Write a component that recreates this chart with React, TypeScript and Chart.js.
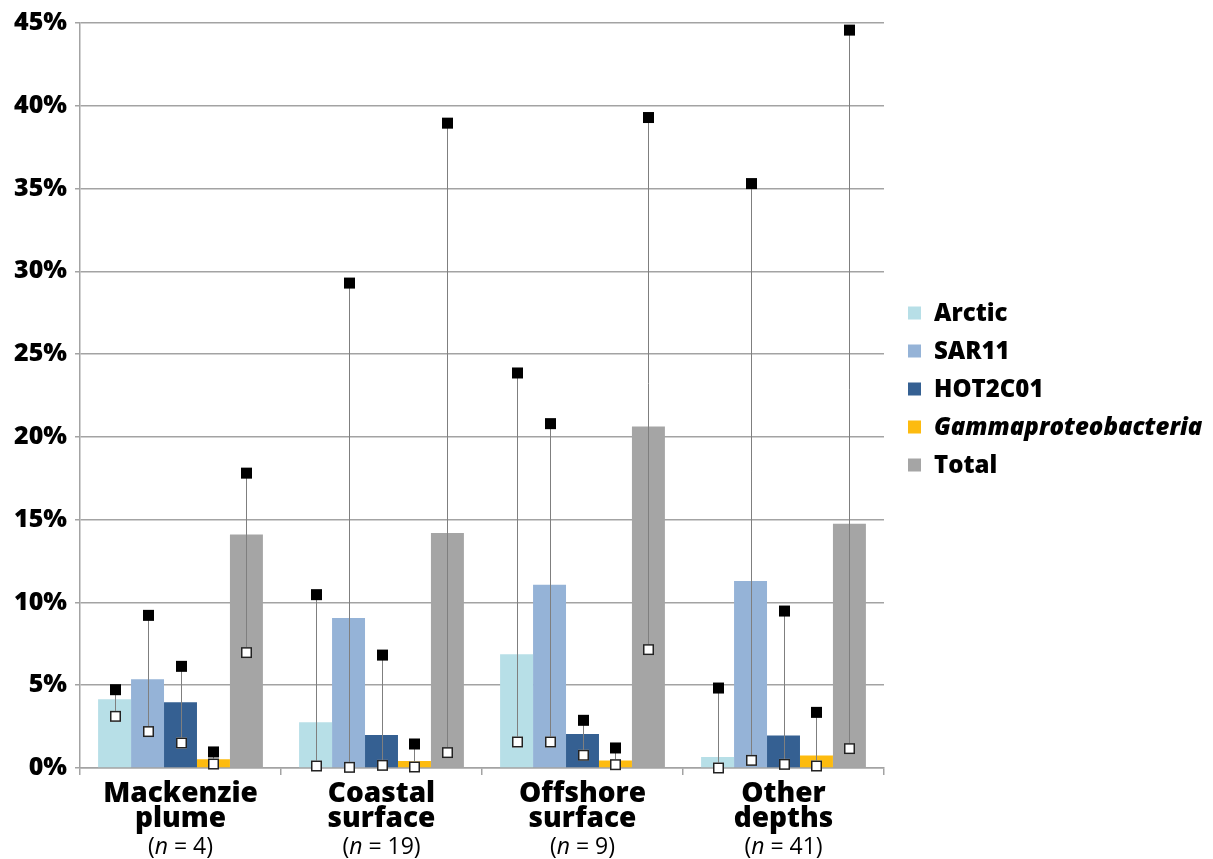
import React, { useEffect, useRef } from "react";
import { Chart, registerables } from "chart.js";

Chart.register(...registerables);

// ---- Data ----
const categories = ["Mackenzie plume", "Coastal surface", "Offshore surface", "Other depths"];
const categoryLine1 = ["Mackenzie", "Coastal", "Offshore", "Other"];
const categoryLine2 = ["plume", "surface", "surface", "depths"];
const sampleSizes = [4, 19, 9, 41];

const seriesNames = ["Arctic", "SAR11", "HOT2C01", "Gammaproteobacteria", "Total"];
const seriesColors = ["#b7dfe7", "#95b3d7", "#356092", "#fdbb0f", "#a5a5a5"];
const italicSeries = ["Gammaproteobacteria"];

const arcticMean = [4.15, 2.76, 6.87, 0.67];
const arcticMax = [4.73, 10.47, 23.86, 4.83];
const arcticMin = [3.12, 0.12, 1.57, 0.0];

const sar11Mean = [5.36, 9.06, 11.07, 11.29];
const sar11Max = [9.22, 29.29, 20.8, 35.3];
const sar11Min = [2.2, 0.04, 1.57, 0.46];

const hot2c01Mean = [3.97, 1.99, 2.05, 1.97];
const hot2c01Max = [6.14, 6.82, 2.88, 9.48];
const hot2c01Min = [1.51, 0.16, 0.77, 0.22];

const gammaMean = [0.53, 0.42, 0.45, 0.75];
const gammaMax = [0.97, 1.45, 1.21, 3.36];
const gammaMin = [0.24, 0.06, 0.2, 0.12];

const totalMean = [14.11, 14.19, 20.63, 14.76];
const totalMax = [17.81, 38.95, 39.29, 44.57];
const totalMin = [6.97, 0.93, 7.15, 1.17];

const yMin = 0;
const yMax = 45;
const yStep = 5;

const means = [arcticMean, sar11Mean, hot2c01Mean, gammaMean, totalMean];
const maxes = [arcticMax, sar11Max, hot2c01Max, gammaMax, totalMax];
const mins = [arcticMin, sar11Min, hot2c01Min, gammaMin, totalMin];

const FONT = "'Open Sans', 'Noto Sans', sans-serif";
const GRID = "#a3a3a3";

const whiskerPlugin = {
  id: "whiskers",
  afterDatasetsDraw(chart: any) {
    const ctx = chart.ctx;
    const y = chart.scales.y;
    chart.data.datasets.forEach((ds: any, i: number) => {
      const meta = chart.getDatasetMeta(i);
      meta.data.forEach((bar: any, j: number) => {
        const x = Math.round(bar.x) + 0.5;
        const pMax = y.getPixelForValue(ds.errMax[j]);
        const pMin = y.getPixelForValue(ds.errMin[j]);
        ctx.save();
        ctx.strokeStyle = "#7f7f7f";
        ctx.lineWidth = 1;
        ctx.beginPath();
        ctx.moveTo(x, pMin);
        ctx.lineTo(x, pMax);
        ctx.stroke();
        const s = 11;
        ctx.fillStyle = "#000";
        ctx.fillRect(x - s / 2, pMax - s / 2, s, s);
        ctx.fillStyle = "#fff";
        ctx.fillRect(x - s / 2, pMin - s / 2, s, s);
        ctx.strokeStyle = "#222";
        ctx.lineWidth = 1.5;
        ctx.strokeRect(x - s / 2 + 0.75, pMin - s / 2 + 0.75, s - 1.5, s - 1.5);
        ctx.restore();
      });
    });
  },
};

const labelsPlugin = {
  id: "catLabels",
  afterDraw(chart: any) {
    const ctx = chart.ctx;
    const xs = chart.scales.x;
    const bottom = chart.chartArea.bottom;
    ctx.save();
    ctx.fillStyle = "#000";
    ctx.textBaseline = "alphabetic";
    categories.forEach((_c, j) => {
      const cx = xs.getPixelForValue(j);
      ctx.textAlign = "center";
      ctx.font = `800 28px ${FONT}`;
      ctx.fillText(categoryLine1[j], cx, bottom + 34);
      ctx.fillText(categoryLine2[j], cx, bottom + 59);
      // (n = N)
      ctx.textAlign = "left";
      const normal = `23px ${FONT}`;
      const ital = `italic 23px ${FONT}`;
      const p1 = "(";
      const p2 = "n";
      const p3 = " = " + sampleSizes[j] + ")";
      ctx.font = normal;
      const w1 = ctx.measureText(p1).width;
      const w3 = ctx.measureText(p3).width;
      ctx.font = ital;
      const w2 = ctx.measureText(p2).width;
      let x0 = cx - (w1 + w2 + w3) / 2;
      const by = bottom + 86;
      ctx.font = normal;
      ctx.fillText(p1, x0, by);
      x0 += w1;
      ctx.font = ital;
      ctx.fillText(p2, x0, by);
      x0 += w2;
      ctx.font = normal;
      ctx.fillText(p3, x0, by);
    });
    ctx.restore();
  },
};

const legendPlugin = {
  id: "customLegend",
  afterDraw(chart: any) {
    const ctx = chart.ctx;
    const x0 = chart.chartArea.right + 24;
    const yStart = 313;
    const gap = 38;
    ctx.save();
    ctx.textBaseline = "middle";
    ctx.textAlign = "left";
    chart.data.datasets.forEach((ds: any, i: number) => {
      const yc = yStart + i * gap;
      ctx.fillStyle = ds.backgroundColor;
      ctx.fillRect(x0, yc - 6.5, 13, 13);
      ctx.fillStyle = "#000";
      const it = italicSeries.includes(ds.label);
      ctx.font = `${it ? "italic " : ""}800 24px ${FONT}`;
      ctx.fillText(ds.label, x0 + 26, yc + 1);
    });
    ctx.restore();
  },
};

export default function App() {
  const ref = useRef<HTMLCanvasElement | null>(null);
  useEffect(() => {
    if (!ref.current) return;
    const chart = new Chart(ref.current, {
      type: "bar",
      data: {
        labels: categories,
        datasets: seriesNames.map((name, i) => ({
          label: name,
          data: means[i],
          backgroundColor: seriesColors[i],
          borderWidth: 0,
          errMax: maxes[i],
          errMin: mins[i],
        })) as any,
      },
      options: {
        animation: false,
        responsive: true,
        maintainAspectRatio: false,
        layout: { padding: { top: 23, right: 329, left: 0, bottom: 0 } },
        plugins: {
          legend: { display: false },
          tooltip: { enabled: false },
        },
        datasets: {
          bar: { categoryPercentage: 0.82, barPercentage: 1.0 },
        },
        scales: {
          x: {
            offset: true,
            grid: {
              offset: true,
              drawOnChartArea: false,
              drawTicks: true,
              tickLength: 7,
              color: GRID,
              lineWidth: 1.5,
            },
            border: { display: true, color: GRID, width: 1.5 },
            ticks: { display: false },
            afterFit(scale: any) {
              scale.height = 91;
            },
          },
          y: {
            min: yMin,
            max: yMax,
            ticks: {
              stepSize: yStep,
              color: "#000",
              font: { family: FONT, size: 25, weight: "800" },
              padding: 8,
              callback: (v: any) => v + "%",
            },
            grid: { color: GRID, lineWidth: 1.5, tickLength: 5 },
            border: { display: true, color: GRID, width: 1.5 },
            afterFit(scale: any) {
              scale.width = 80;
            },
          },
        },
      } as any,
      plugins: [whiskerPlugin, labelsPlugin, legendPlugin],
    });
    return () => chart.destroy();
  }, []);
  return (
    <div style={{ position: "absolute", left: 0, top: 0, width: 1213, height: 859, background: "#fff" }}>
      <canvas ref={ref} />
    </div>
  );
}
